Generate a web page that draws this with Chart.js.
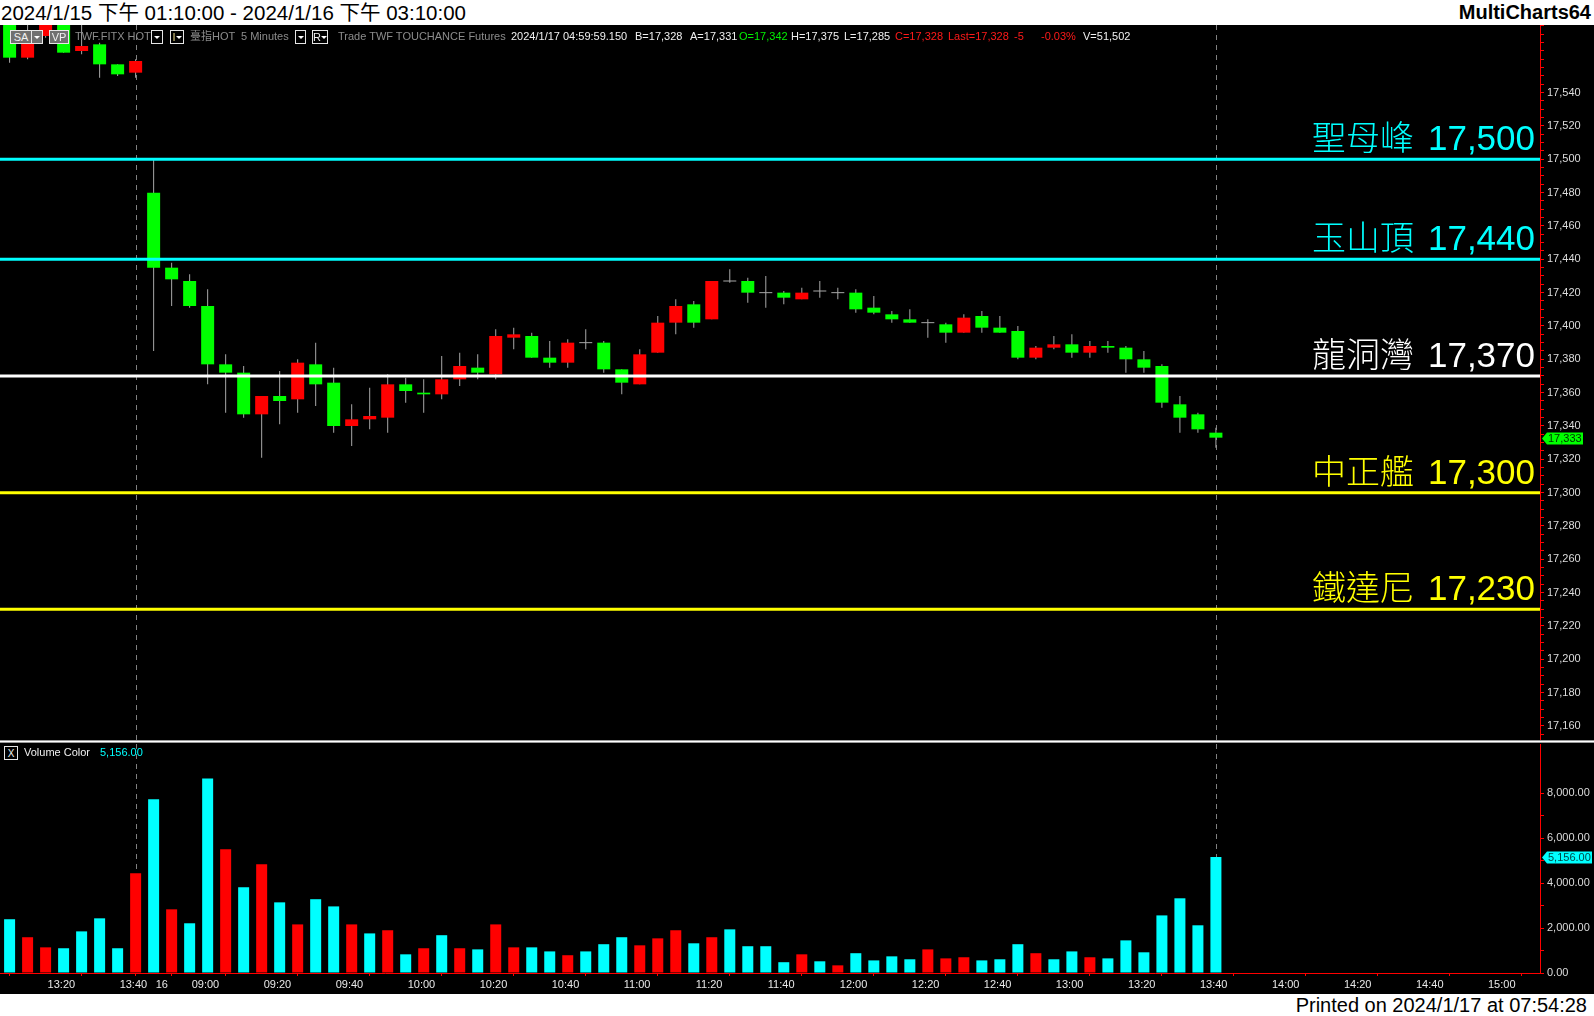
<!DOCTYPE html>
<html><head><meta charset="utf-8">
<script src="https://cdn.jsdelivr.net/npm/chart.js@4.4.1/dist/chart.umd.min.js"></script>
<style>
html,body{margin:0;padding:0;background:#000;width:1594px;height:1016px;overflow:hidden;font-family:"Liberation Sans",Arial,"Noto Sans CJK TC",sans-serif;}
#hdr{position:absolute;left:0;top:0;width:1594px;height:25px;background:#fff;z-index:5}
#title{position:absolute;left:1px;top:0;font-size:20.5px;line-height:25px;color:#000;white-space:nowrap;font-family:"Liberation Sans",Arial,"Noto Sans CJK TC",sans-serif}
#brand{position:absolute;right:3px;top:0;font-size:20px;font-weight:bold;line-height:25px;color:#000;}
#ftr{position:absolute;left:0;top:994px;width:1594px;height:22px;background:#fff;z-index:5}
#printed{position:absolute;right:7px;top:0;font-size:20px;line-height:22px;color:#000;white-space:nowrap}
#pc{position:absolute;left:0;top:25px;}
#vc{position:absolute;left:0;top:744px;}
#sep{position:absolute;left:0;top:740px;width:1594px;height:3px;background:#9a9a9a;z-index:4}
#sep div{margin-top:1px;height:1px;background:#fff}
.tb{position:absolute;font-size:11px;line-height:13px;white-space:nowrap;z-index:6}
.bx{position:absolute;box-sizing:border-box;border:1px solid #e6e6e6;height:14px;font-size:11px;line-height:12px;text-align:center;color:#f0f0f0;z-index:6;white-space:nowrap}
.tri{display:inline-block;width:0;height:0;border-left:3px solid transparent;border-right:3px solid transparent;border-top:3px solid #fff;vertical-align:middle;margin-bottom:2px}
</style></head>
<body>
<div id="hdr"><div id="title">2024/1/15 下午 01:10:00 - 2024/1/16 下午 03:10:00</div><div id="brand">MultiCharts64</div></div>
<canvas id="pc" width="1594" height="715"></canvas>
<div id="sep"><div></div></div>
<canvas id="vc" width="1594" height="250"></canvas>
<div id="ftr"><div id="printed">Printed on 2024/1/17 at 07:54:28</div></div>
<script>
// ---------------- DATA ----------------
const barTimes = ['01/15 13:10','01/15 13:15','01/15 13:20','01/15 13:25','01/15 13:30','01/15 13:35','01/15 13:40','01/15 13:45',
'01/16 08:50','01/16 08:55','01/16 09:00','01/16 09:05','01/16 09:10','01/16 09:15','01/16 09:20','01/16 09:25','01/16 09:30','01/16 09:35',
'01/16 09:40','01/16 09:45','01/16 09:50','01/16 09:55','01/16 10:00','01/16 10:05','01/16 10:10','01/16 10:15','01/16 10:20','01/16 10:25',
'01/16 10:30','01/16 10:35','01/16 10:40','01/16 10:45','01/16 10:50','01/16 10:55','01/16 11:00','01/16 11:05','01/16 11:10','01/16 11:15',
'01/16 11:20','01/16 11:25','01/16 11:30','01/16 11:35','01/16 11:40','01/16 11:45','01/16 11:50','01/16 11:55','01/16 12:00','01/16 12:05',
'01/16 12:10','01/16 12:15','01/16 12:20','01/16 12:25','01/16 12:30','01/16 12:35','01/16 12:40','01/16 12:45','01/16 12:50','01/16 12:55',
'01/16 13:00','01/16 13:05','01/16 13:10','01/16 13:15','01/16 13:20','01/16 13:25','01/16 13:30','01/16 13:35','01/16 13:40','01/16 13:45'];

const opens  = [17590,17561,17574,17588,17565,17569,17557,17552,17480,17435,17427,17412,17377,17372,17347,17358,17356,17377,17366,17340,
17344,17345,17365,17360,17359,17368,17375,17371,17393,17394,17381,17378,17390,17390,17374,17365,17384,17402,17413,17404,
17427,17427,17420,17420,17416,17421,17420,17420,17411,17407,17404,17402,17401,17396,17406,17399,17397,17381,17387,17389,
17384,17388,17387,17380,17376,17353,17347,17336];
const highs  = [17595,17582,17598,17592,17583,17570,17557,17560,17500,17438,17431,17422,17383,17376,17358,17373,17380,17390,17375,17353,
17363,17371,17369,17368,17382,17384,17383,17398,17399,17396,17391,17392,17398,17391,17374,17386,17406,17416,17415,17427,
17434,17429,17430,17421,17423,17427,17423,17422,17418,17409,17410,17404,17402,17407,17409,17406,17400,17388,17394,17395,
17391,17391,17388,17385,17377,17358,17348,17339];
const lows   = [17558,17560,17573,17564,17563,17549,17550,17549,17385,17412,17411,17365,17348,17345,17321,17341,17348,17352,17336,17328,
17338,17336,17354,17348,17356,17364,17368,17368,17386,17381,17375,17375,17386,17372,17359,17365,17384,17395,17399,17404,
17426,17414,17411,17413,17416,17417,17416,17408,17407,17402,17402,17393,17390,17396,17396,17396,17380,17380,17386,17381,
17381,17384,17372,17372,17351,17336,17336,17327];
const closes = [17561,17577,17590,17564,17568,17557,17551,17559,17435,17428,17412,17377,17372,17347,17358,17355,17378,17365,17340,17344,
17346,17365,17361,17359,17368,17376,17372,17394,17395,17381,17378,17390,17390,17374,17366,17383,17402,17412,17402,17427,
17427,17420,17420,17417,17420,17421,17420,17410,17408,17404,17402,17402,17396,17405,17399,17396,17381,17387,17389,17384,
17388,17387,17380,17375,17354,17345,17338,17333];
const volumes = [2390,1590,1140,1100,1850,2430,1100,4430,7720,2830,
2210,8650,5500,3810,4830,3140,2160,3280,2960,2160,
1760,1900,830,1100,1680,1100,1050,2160,1140,1140,
960,790,960,1280,1590,1230,1540,1900,1320,1590,
1940,1190,1190,480,830,520,340,880,560,740,
610,1050,650,700,560,610,1280,880,610,960,
700,650,1450,920,2560,3320,2120,5156];
const volumeDir = ['d','u','u','d','d','d','d','u','d','u',
'd','d','u','d','u','d','u','d','d','u',
'd','u','d','u','d','u','d','u','u','d',
'd','u','d','d','d','u','u','u','d','u',
'd','d','d','d','u','d','u','d','d','d',
'd','u','u','u','d','d','d','u','d','d',
'u','d','d','d','d','d','d','d'];

const levelNames  = ['聖母峰','玉山頂','龍洞灣','中正艦','鐵達尼'];
const levelValues = [17500, 17440, 17370, 17300, 17230];

const priceLabelValues = [17160,17180,17200,17220,17240,17260,17280,17300,17320,17340,17360,17380,17400,17420,17440,17460,17480,17500,17520,17540];
const volumeLabelValues = [0,2000,4000,6000,8000];
const timeTickSlots  = [2,6,8,10,14,18,22,26,30,34,38,42,46,50,54,58,62,66,70,74,78,82];
const timeTickLabels = ['13:20','13:40','16','09:00','09:20','09:40','10:00','10:20','10:40','11:00','11:20','11:40','12:00','12:20','12:40','13:00','13:20','13:40','14:00','14:20','14:40','15:00'];
const sessionMarks = [7, 67];

// ---------------- STYLE / LAYOUT ----------------
const GREEN='#00ff00', RED='#ff0000', CYAN='#00ffff', WICK='#a8a8a8';
const levelColors = ['#00ffff','#00ffff','#ffffff','#ffff00','#ffff00'];
const X_MIN=-0.533, X_MAX=85;
const P_MIN=17151.6, P_MAX=17580.6;
const V_MAX=10178;
const fmt = v => String(v).replace(/\B(?=(\d{3})+(?!\d))/g, ',');
const AXFONT = {family:'"Liberation Sans", Arial, sans-serif', size:11};

const idx = barTimes.map((t,i)=>i);
const dashPlugin = {id:'sessionDash', beforeDatasetsDraw(chart){
  const {ctx, chartArea:a, scales:{x}} = chart;
  ctx.save(); ctx.strokeStyle='#808080'; ctx.lineWidth=1; ctx.setLineDash([5,5]);
  sessionMarks.forEach(i=>{const px=Math.round(x.getPixelForValue(i))+0.5; ctx.beginPath(); ctx.moveTo(px,a.top); ctx.lineTo(px,a.bottom); ctx.stroke();});
  ctx.restore();
}};
function marker(ctx, xr, y, w, bg, txt, tc){
  ctx.save(); ctx.fillStyle=bg; ctx.beginPath();
  ctx.moveTo(xr+2,y); ctx.lineTo(xr+7,y-6); ctx.lineTo(xr+2+w,y-6); ctx.lineTo(xr+2+w,y+6); ctx.lineTo(xr+7,y+6); ctx.closePath(); ctx.fill();
  ctx.fillStyle=tc; ctx.font='11px "Liberation Sans", Arial'; ctx.textAlign='left'; ctx.textBaseline='middle';
  ctx.fillText(txt, xr+8, y+0.5); ctx.restore();
}
const levelPlugin = {id:'levels', afterDatasetsDraw(chart){
  const {ctx, chartArea:a, scales:{y}} = chart;
  ctx.save();
  levelValues.forEach((v,k)=>{
    const py = y.getPixelForValue(v);
    const right = a.right - 5;
    ctx.fillStyle = levelColors[k]; ctx.textAlign='right'; ctx.textBaseline='alphabetic';
    ctx.font = '35px "Liberation Sans", Arial';
    const num = fmt(v); const nw = ctx.measureText(num).width;
    ctx.fillText(num, right, py-9);
    ctx.font = '300 34px "Noto Sans CJK TC", "Noto Sans CJK SC", sans-serif';
    ctx.fillText(levelNames[k], right - nw - 14, py-9);
  });
  ctx.restore();
}, afterDraw(chart){
  const {ctx, chartArea:a, scales:{y}} = chart;
  const last = closes[closes.length-1];
  marker(ctx, a.right, Math.round(y.getPixelForValue(last))+0.5, 41, GREEN, fmt(last), '#003300');
}};

const priceTicks = [];
for (let v=17155; v<=17580; v+=5) priceTicks.push(v);

new Chart(document.getElementById('pc'), {
  type:'bar',
  data:{datasets:[
    ...levelValues.map((v,k)=>({type:'line', data:[{x:X_MIN,y:v},{x:X_MAX,y:v}], borderColor:levelColors[k], borderWidth:3, pointRadius:0, order:0})),
    {type:'line', data:idx.filter(i=>opens[i]===closes[i]).map(i=>({x:i,y:opens[i]})), showLine:false, pointStyle:'line', pointRadius:6.5, borderColor:WICK, borderWidth:1, order:1},
    {type:'bar', data:idx.map(i=>({x:i,y:[opens[i],closes[i]]})), backgroundColor:idx.map(i=>closes[i]>opens[i]?RED:GREEN), barThickness:13, grouped:false, borderWidth:0, inflateAmount:0, order:2},
    {type:'bar', data:idx.map(i=>({x:i,y:[lows[i],highs[i]]})), backgroundColor:WICK, barThickness:1, grouped:false, borderWidth:0, inflateAmount:0, order:3}
  ]},
  options:{
    responsive:false, animation:false, maintainAspectRatio:false, layout:{padding:0, autoPadding:false},
    plugins:{legend:{display:false}, tooltip:{enabled:false}},
    scales:{
      x:{type:'linear', min:X_MIN, max:X_MAX, display:false, offset:false},
      y:{position:'right', min:P_MIN, max:P_MAX,
        afterBuildTicks:s=>{s.ticks=priceTicks.map(v=>({value:v}));},
        afterFit:s=>{s.width=54; s.paddingTop=0; s.paddingBottom=0;},
        grid:{drawOnChartArea:false, drawTicks:true, tickLength:4, tickColor:RED, color:RED},
        border:{color:RED, width:1},
        ticks:{color:'#dcdcdc', font:AXFONT, padding:3, autoSkip:false, callback:v=> priceLabelValues.includes(v)?fmt(v):''}}
    }
  },
  plugins:[dashPlugin, levelPlugin]
});

const volPlugin = {id:'volMarker', afterDraw(chart){
  const {ctx, chartArea:a, scales:{y}} = chart;
  const last = volumes[volumes.length-1];
  marker(ctx, a.right, Math.round(y.getPixelForValue(last))+0.5, 50, CYAN, fmt(last)+'.00', '#004848');
}};
const volTicks=[0,1000,2000,3000,4000,5000,6000,7000,8000];
new Chart(document.getElementById('vc'), {
  type:'bar',
  data:{datasets:[
    {type:'bar', data:idx.map(i=>({x:i,y:volumes[i]})), backgroundColor:idx.map(i=>volumeDir[i]==='u'?RED:CYAN), barThickness:11, grouped:false, borderWidth:0, inflateAmount:0}
  ]},
  options:{
    responsive:false, animation:false, maintainAspectRatio:false, layout:{padding:0, autoPadding:false},
    plugins:{legend:{display:false}, tooltip:{enabled:false}},
    scales:{
      x:{type:'linear', min:X_MIN, max:X_MAX, offset:false,
        afterBuildTicks:s=>{s.ticks=timeTickSlots.map(v=>({value:v}));},
        afterFit:s=>{s.height=21; s.paddingLeft=0; s.paddingRight=0;},
        grid:{drawOnChartArea:false, drawTicks:true, tickLength:3, tickColor:RED, color:RED},
        border:{color:RED, width:1},
        ticks:{color:'#e8e8e8', font:AXFONT, padding:2, autoSkip:false, maxRotation:0, minRotation:0, align:'start', labelOffset:2,
          callback:v=>{const k=timeTickSlots.indexOf(v); return k>=0?timeTickLabels[k]:'';}}},
      y:{position:'right', min:0, max:V_MAX,
        afterBuildTicks:s=>{s.ticks=volTicks.map(v=>({value:v}));},
        afterFit:s=>{s.width=54; s.paddingTop=0; s.paddingBottom=0;},
        grid:{drawOnChartArea:false, drawTicks:true, tickLength:4, tickColor:RED, color:RED},
        border:{color:RED, width:1},
        ticks:{color:'#dcdcdc', font:AXFONT, padding:3, autoSkip:false, callback:v=> volumeLabelValues.includes(v)?fmt(v)+'.00':''}}
    }
  },
  plugins:[dashPlugin, volPlugin]
});

// ---------------- TOOLBAR / LEGEND (HTML text) ----------------
function box(x0,x1,top,bg,html){const d=document.createElement('div'); d.className='bx'; d.style.left=x0+'px'; d.style.top=top+'px'; d.style.width=(x1-x0)+'px'; d.style.background=bg; d.innerHTML=html; document.body.appendChild(d);}
function txt(s,x,top,color){const d=document.createElement('div'); d.className='tb'; d.style.left=x+'px'; d.style.top=top+'px'; d.style.color=color; d.textContent=s; document.body.appendChild(d);}
const tri='<span class="tri"></span>';
box(10,32,30,'#707070','SA'); box(31,43,30,'#707070',tri); box(49,69,30,'#707070','VP');
box(151,163,30,'#000',tri); box(170,184,30,'#000','<span style="color:#e0d080">I</span>'+tri);
box(295,306,30,'#000',tri); box(312,328,30,'#000','R'+tri);
const GRAY='#8c8c8c', W='#f0f0f0', G='#00f000', R='#ff1a1a';
[['TWF.FITX HOT',75,GRAY],['臺指HOT',190,GRAY],['5 Minutes',241,GRAY],['Trade TWF TOUCHANCE Futures',338,GRAY],
 ['2024/1/17 04:59:59.150',511,W],['B=17,328',635,W],['A=17,331',690,W],['O=17,342',739,G],['H=17,375',791,W],
 ['L=17,285',844,W],['C=17,328',895,R],['Last=17,328',948,R],['-5',1014,R],['-0.03%',1041,R],['V=51,502',1083,W]
].forEach(t=>txt(t[0],t[1],30,t[2]));
box(4,18,746,'#000','<span style="font-size:10px;line-height:11px">X</span>');
txt('Volume Color',24,746,W); txt(fmt(volumes[volumes.length-1])+'.00',100,746,CYAN);
</script>
</body></html>
